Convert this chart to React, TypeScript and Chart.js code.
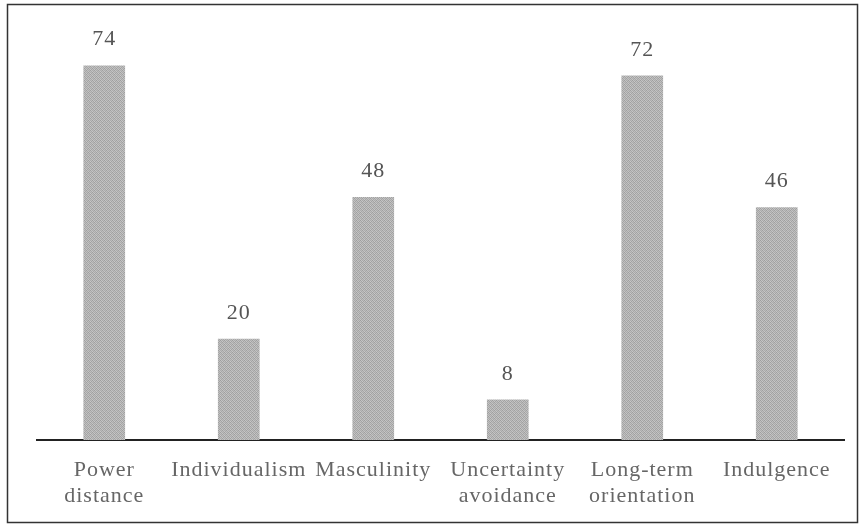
import React, { useEffect, useRef } from "react";
import { Chart, registerables } from "chart.js";

Chart.register(...registerables);

const categories: (string | string[])[] = [
  ["Power", "distance"],
  "Individualism",
  "Masculinity",
  ["Uncertainty", "avoidance"],
  ["Long-term", "orientation"],
  "Indulgence",
];
const scores = [74, 20, 48, 8, 72, 46];

const FONT = '"Liberation Serif", "Times New Roman", serif';

function makePattern(): CanvasPattern | string {
  const c = document.createElement("canvas");
  c.width = 4;
  c.height = 4;
  const ctx = c.getContext("2d");
  if (!ctx) return "#aaaaaa";
  const shades = [
    "#9e9e9e", "#c4c4c4", "#aaaaaa", "#bdbdbd",
    "#c0c0c0", "#a4a4a4", "#c8c8c8", "#a2a2a2",
    "#acacac", "#bababa", "#a0a0a0", "#c2c2c2",
    "#c6c6c6", "#a6a6a6", "#bebebe", "#a8a8a8",
  ];
  for (let i = 0; i < 16; i++) {
    ctx.fillStyle = shades[i];
    ctx.fillRect(i % 4, Math.floor(i / 4), 1, 1);
  }
  const p = ctx.createPattern(c, "repeat");
  return p || "#aaaaaa";
}

const spacingPlugin = {
  id: "spacing",
  beforeDraw(chart: any) {
    try {
      (chart.ctx as any).letterSpacing = "1px";
    } catch (e) {}
  },
};

const framePlugin = {
  id: "frame",
  afterDraw(chart: any) {
    const ctx = chart.ctx;
    ctx.save();
    ctx.strokeStyle = "#333";
    ctx.lineWidth = 1.5;
    ctx.strokeRect(7.5, 4.5, 850, 518);
    ctx.restore();
  },
};

const valueLabelPlugin = {
  id: "valueLabels",
  afterDatasetsDraw(chart: any) {
    const ctx = chart.ctx;
    const meta = chart.getDatasetMeta(0);
    ctx.save();
    ctx.font = `22px ${FONT}`;
    ctx.fillStyle = "#555";
    ctx.textAlign = "center";
    ctx.textBaseline = "alphabetic";
    meta.data.forEach((bar: any, i: number) => {
      ctx.fillText(String(scores[i]), bar.x, bar.y - 20);
    });
    ctx.restore();
  },
};

export default function App() {
  const ref = useRef<HTMLCanvasElement>(null);
  useEffect(() => {
    if (!ref.current) return;
    const chart = new Chart(ref.current, {
      type: "bar",
      data: {
        labels: categories,
        datasets: [
          {
            data: scores,
            backgroundColor: makePattern() as any,
            borderWidth: 0,
            barPercentage: 0.31,
            categoryPercentage: 1,
          },
        ],
      },
      options: {
        animation: false,
        responsive: false,
        devicePixelRatio: 1,
        layout: { padding: { left: 37, right: 21, top: 35, bottom: 0 } },
        plugins: { legend: { display: false }, tooltip: { enabled: false } },
        scales: {
          x: {
            grid: { display: false },
            border: { display: true, color: "#222", width: 2 },
            ticks: {
              color: "#666",
              font: { family: FONT, size: 22, lineHeight: 1.2 },
              padding: 9,
              maxRotation: 0,
              autoSkip: false,
            },
            afterFit(scale: any) {
              scale.height = 87;
            },
          },
          y: {
            display: false,
            min: 0,
            max: 80,
          },
        },
      },
      plugins: [spacingPlugin, framePlugin, valueLabelPlugin],
    });
    return () => chart.destroy();
  }, []);
  return (
    <div style={{ position: "absolute", left: 0, top: 0, width: 865, height: 527, background: "#fff" }}>
      <canvas ref={ref} width={865} height={527} style={{ width: 865, height: 527 }} />
    </div>
  );
}
